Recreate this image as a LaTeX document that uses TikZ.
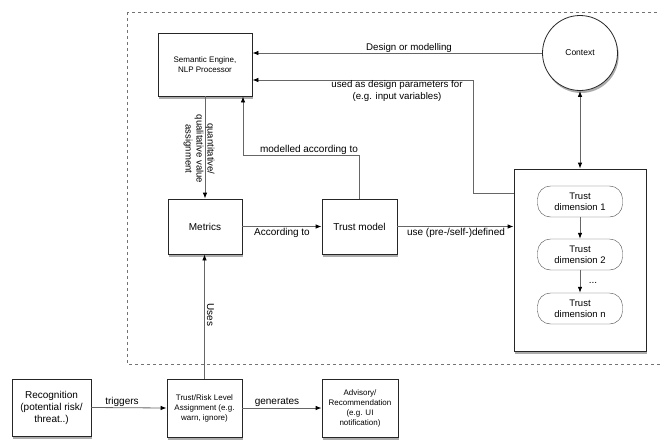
\documentclass[tikz,border=0pt]{standalone}
\usepackage{fontspec}
\setmainfont{Liberation Sans}
\usetikzlibrary{arrows.meta,shadows}

\begin{document}
\begin{tikzpicture}[
        x=1pt, y=-1pt,
        % box style: black frame, white fill, drop shadow
        box/.style={
            rectangle,
            draw=black!85,
            line width=0.8pt,
            fill=white,
            inner sep=1pt,
            align=center,
            drop shadow={shadow xshift=1.2pt, shadow yshift=-2.5pt, opacity=0.65},
            font=\fontsize{10}{12}\selectfont
        },
        smallbox/.style={
            box,
            font=\fontsize{8}{10}\selectfont
        },
        dimbox/.style={
            rectangle,
            rounded corners=13pt,
            draw=black!70,
            fill=white,
            align=center,
            minimum width=85pt,
            minimum height=31pt,
            inner sep=0pt,
            font=\fontsize{9.5}{11}\selectfont
        },
        % connector style
        link/.style={
            draw=black!60,
            line width=0.8pt,
            -{Latex[length=6pt,width=4.5pt,color=black]}
        },
        lbl/.style={
            inner sep=1pt,
            align=center,
            font=\fontsize{10}{11.5}\selectfont
        }
    ]
        \useasboundingbox (0,0) rectangle (660,439);

        % --- 1. dashed frame ---
        \draw[black!55, dash pattern=on 3pt off 3pt] (127,12) rectangle (670,364);

        % --- 2. nodes ---
        \node[smallbox, minimum width=94pt, minimum height=63pt] (sem) at (205,64.5) {Semantic Engine,\\NLP Processor};
        \node[circle, draw=black!85, line width=0.8pt, fill=white, minimum size=75pt, inner sep=0pt,
              drop shadow={shadow xshift=1.2pt, shadow yshift=-2.5pt, opacity=0.65},
              font=\fontsize{8.5}{10}\selectfont] (ctx) at (580,53) {Context};

        \node[box, minimum width=74pt, minimum height=55pt] (metrics) at (205,226.5) {Metrics};
        \node[box, minimum width=75pt, minimum height=55pt] (tmodel) at (359.5,226.5) {Trust model};

        \node[box, minimum width=132pt, minimum height=182pt] (tbox) at (580,260) {};
        \node[dimbox] (dim1) at (580,201.5) {Trust\\dimension 1};
        \node[dimbox] (dim2) at (580,254.5) {Trust\\dimension 2};
        \node[dimbox] (dimn) at (580,308.5) {Trust\\dimension n};

        \node[box, minimum width=79pt, minimum height=57pt] (recog) at (51.5,407.5) {Recognition\\(potential risk/\\threat..)};
        \node[smallbox, minimum width=75pt, minimum height=58pt] (assign) at (204.5,408) {Trust/Risk Level\\Assignment (e.g.\\warn, ignore)};
        \node[smallbox, minimum width=76pt, minimum height=58pt] (advis) at (360,408) {Advisory/\\Recommendation\\(e.g. UI\\notification)};

        % --- 3. bend points ---
        \coordinate (paramIn) at (473,193);
        \coordinate (paramBend) at (473,80);
        \coordinate (modelBend) at (243,155);

        % --- 4. connectors ---
        \draw[link] (ctx.west) -- (ctx.west -| sem.east);
        \draw[link] (tbox.west |- paramIn) -- (paramIn) -- (paramBend) -- (paramBend -| sem.east);
        \draw[link] (sem.south) -- (metrics.north);
        \draw[link] (tmodel.north) |- (modelBend) -- (modelBend |- sem.south);
        \draw[link] (metrics.east) -- (tmodel.west);
        \draw[link] (tmodel.east) -- (tmodel.east -| tbox.west);
        \draw[link, {Latex[length=6pt,width=4.5pt,color=black]}-{Latex[length=6pt,width=4.5pt,color=black]}] (ctx.south) -- (tbox.north);
        \draw[link] (dim1) -- (dim2);
        \draw[link] (dim2) -- (dimn);
        \draw[link] (assign.north) -- (assign.north |- metrics.south);
        \draw[link] (recog.east) -- (assign.west);
        \draw[link] (assign.east) -- (advis.west);

        % --- 5. labels ---
        \node[lbl, font=\fontsize{9.7}{11}\selectfont] (lDesign) at (409,47.5) {Design or modelling};
        \node[lbl, font=\fontsize{9.7}{11.5}\selectfont] (lParam) at (397,91) {used as design parameters for\\(e.g. input variables)};
        \node[lbl, rotate=-90, font=\fontsize{9.5}{11}\selectfont] (lQuant) at (199,149) {quantitative/\\qualitative value\\assignment};
        \node[lbl] (lModel) at (309,150) {modelled according to};
        \node[lbl] (lAccord) at (282,232.5) {According to};
        \node[lbl] (lUse) at (456,232.5) {use (pre-/self-)defined};
        \node[lbl, rotate=-90] (lUses) at (210.5,315) {Uses};
        \node[lbl] (lTrig) at (122,402) {triggers};
        \node[lbl] (lGen) at (277,402) {generates};
        \node[lbl] (lDots) at (593,283) {...};

\end{tikzpicture}
\end{document}
